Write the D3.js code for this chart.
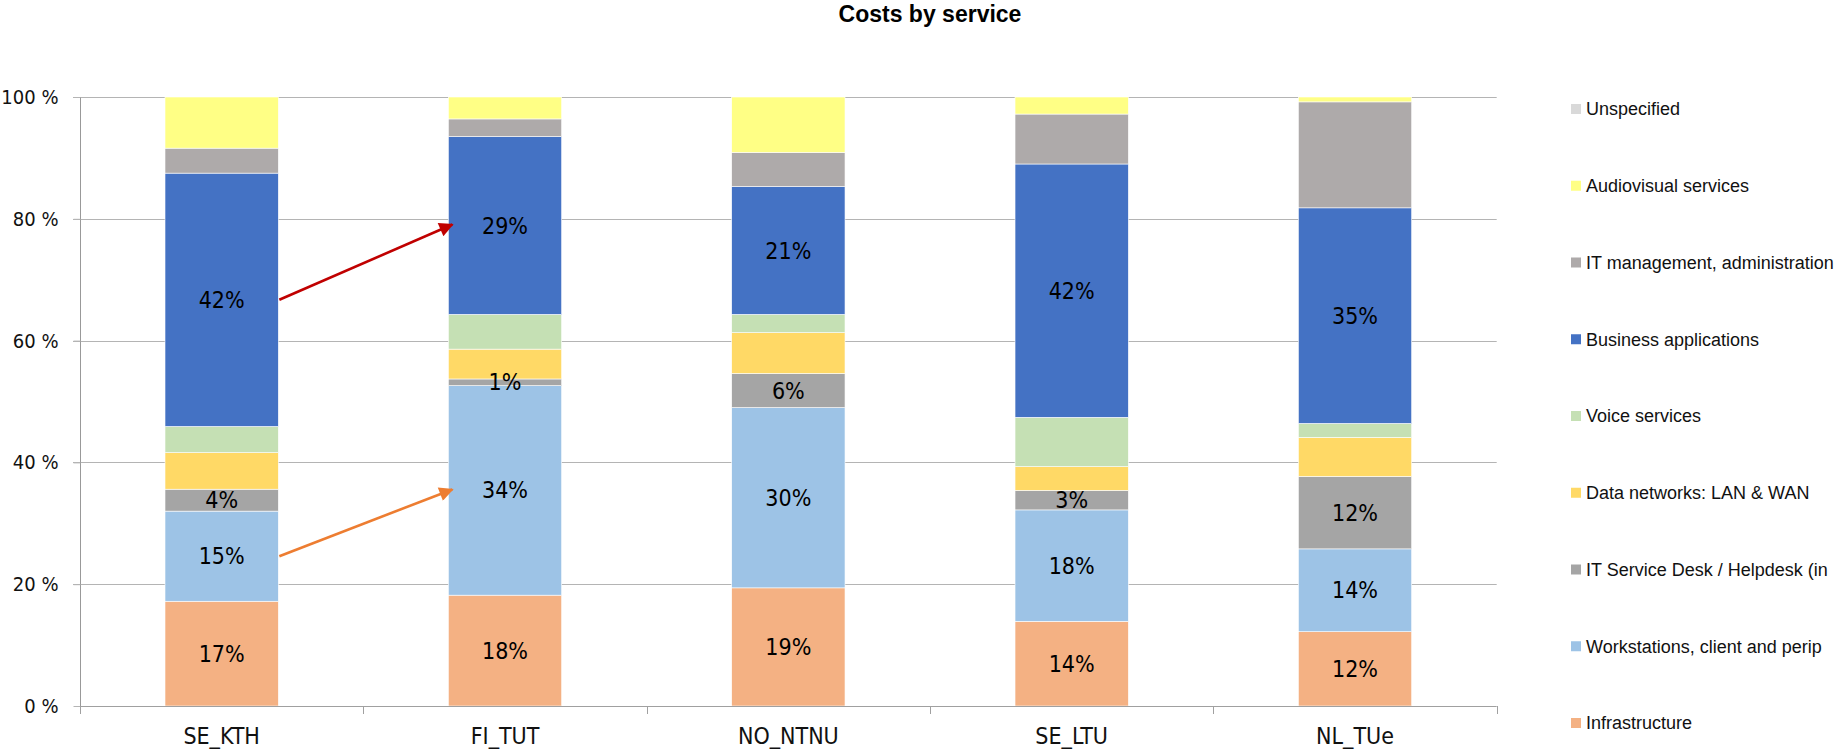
<!DOCTYPE html>
<html>
<head>
<meta charset="utf-8">
<script src="https://cdn.jsdelivr.net/npm/d3@7"></script>
<style>
  body { margin: 0; background: #fff; }
  svg { display: block; }
</style>
</head>
<body>
<svg id="chart" width="1837" height="753"></svg>
<script>
// categories (bars)
var categories = ["SE_KTH", "FI_TUT", "NO_NTNU", "SE_LTU", "NL_TUe"];

// series values in % (bottom to top)
var infrastructure = [17.2, 18.2, 19.4, 13.9, 12.2];
var workstations   = [14.8, 34.4, 29.6, 18.3, 13.6];
var serviceDesk    = [3.6, 1.1, 5.6, 3.2, 11.9];
var dataNetworks   = [6.0, 4.9, 6.7, 3.9, 6.4];
var voice          = [4.3, 5.7, 3.0, 8.1, 2.3];
var business       = [41.6, 29.2, 21.0, 41.6, 35.4];
var itManagement   = [4.1, 2.9, 5.6, 8.2, 17.4];
var audiovisual    = [8.4, 3.6, 9.1, 2.8, 0.8];
var unspecified    = [0, 0, 0, 0, 0];

var seriesNames = ["Infrastructure", "Workstations, client and perip", "IT Service Desk / Helpdesk (in",
  "Data networks: LAN & WAN", "Voice services", "Business applications",
  "IT management, administration", "Audiovisual services", "Unspecified"];
var seriesValues = [infrastructure, workstations, serviceDesk, dataNetworks, voice, business, itManagement, audiovisual, unspecified];
var colors = ["#f4b183", "#9dc3e6", "#a5a5a5", "#ffd966", "#c5e0b4", "#4472c4", "#aeaaaa", "#ffff85", "#d9d9d9"];
var labelled = [0, 1, 2, 5]; // series that carry data labels

var yTicks = [0, 20, 40, 60, 80, 100];

var narrow = "'Liberation Sans Narrow', 'Arial Narrow', 'DejaVu Sans Condensed', sans-serif";

// build table for d3.stack
var table = categories.map(function(c, i) {
  var row = {cat: c};
  seriesNames.forEach(function(s, j) { row[s] = seriesValues[j][i]; });
  return row;
});
var stacked = d3.stack().keys(seriesNames)(table);

var svg = d3.select("#chart");

var plotL = 80, plotR = 1496.7, plotT = 97, plotB = 706;

var x = d3.scaleBand().domain(categories).range([plotL, plotR]).paddingInner(0.6).paddingOuter(0.3);
var y = d3.scaleLinear().domain([0, 100]).range([plotB, plotT]);

// title
svg.append("text")
  .attr("x", 930).attr("y", 22)
  .attr("text-anchor", "middle")
  .style("font-family", "'Liberation Sans', Arial, sans-serif")
  .style("font-weight", "bold")
  .style("font-size", "23px")
  .text("Costs by service");

// gridlines
svg.append("g").selectAll("line")
  .data(yTicks.filter(function(d) { return d > 0; })).enter()
  .append("line")
  .attr("x1", plotL - 7).attr("x2", plotR)
  .attr("y1", function(d) { return Math.round(y(d)) + 0.5; })
  .attr("y2", function(d) { return Math.round(y(d)) + 0.5; })
  .attr("stroke", "#b4b4b4").attr("stroke-width", 1);

// y axis
var yAxis = svg.append("g")
  .attr("transform", "translate(" + (plotL + 0.5) + ",0)")
  .call(d3.axisLeft(y).tickValues(yTicks).tickSize(7).tickPadding(15)
    .tickFormat(function(d) { return d + " %"; }));
yAxis.select(".domain").attr("stroke", "#999").attr("d", "M0," + plotT + "V" + plotB);
yAxis.selectAll(".tick line").attr("stroke", "#b4b4b4");
yAxis.selectAll(".tick text")
  .style("font-family", narrow).style("font-size", "20px").attr("fill", "#111");

// bars
var layers = svg.append("g").selectAll("g")
  .data(stacked).enter()
  .append("g")
  .attr("fill", function(d, i) { return colors[i]; });

layers.selectAll("rect")
  .data(function(d) { return d; }).enter()
  .append("rect")
  .attr("x", function(d) { return x(d.data.cat); })
  .attr("width", x.bandwidth())
  .attr("y", function(d) { return y(d[1]); })
  .attr("height", function(d) { return y(d[0]) - y(d[1]); })
  .attr("stroke", "#fff").attr("stroke-width", 0.6);

// x axis
var xAxisLine = svg.append("g");
xAxisLine.append("line")
  .attr("x1", plotL).attr("x2", plotR)
  .attr("y1", plotB + 0.5).attr("y2", plotB + 0.5)
  .attr("stroke", "#a0a0a0");
xAxisLine.selectAll(".bt")
  .data(d3.range(categories.length + 1)).enter()
  .append("line")
  .attr("x1", function(i) { return Math.round(plotL + i * x.step()) + 0.5; })
  .attr("x2", function(i) { return Math.round(plotL + i * x.step()) + 0.5; })
  .attr("y1", plotB).attr("y2", plotB + 8)
  .attr("stroke", "#a0a0a0");
xAxisLine.selectAll("text")
  .data(categories).enter()
  .append("text")
  .attr("x", function(d) { return x(d) + x.bandwidth() / 2; })
  .attr("y", 744)
  .attr("text-anchor", "middle")
  .style("font-family", narrow).style("font-size", "23px").attr("fill", "#111")
  .text(function(d) { return d; });

// data labels
labelled.forEach(function(si) {
  svg.append("g").selectAll("text")
    .data(stacked[si]).enter()
    .append("text")
    .attr("x", function(d) { return x(d.data.cat) + x.bandwidth() / 2; })
    .attr("y", function(d) { return y((d[0] + d[1]) / 2); })
    .attr("dy", "0.35em")
    .attr("text-anchor", "middle")
    .style("font-family", narrow).style("font-size", "23px").attr("fill", "#000")
    .text(function(d) { return Math.round(d[1] - d[0]) + "%"; });
});

// arrows between SE_KTH and FI_TUT
var defs = svg.append("defs");
function marker(id, col) {
  defs.append("marker")
    .attr("id", id).attr("viewBox", "0 0 10 10")
    .attr("refX", 9).attr("refY", 5)
    .attr("markerWidth", 6.5).attr("markerHeight", 5.5)
    .attr("markerUnits", "strokeWidth")
    .attr("orient", "auto")
    .append("path").attr("d", "M0,0L10,5L0,10Z").attr("fill", col);
}
marker("redHead", "#c00000");
marker("orangeHead", "#ed7d31");

var arrows = [{series: 5, col: "#c00000", head: "redHead"}, {series: 1, col: "#ed7d31", head: "orangeHead"}];
arrows.forEach(function(a) {
  var s = stacked[a.series];
  svg.append("line")
    .attr("x1", x(categories[0]) + x.bandwidth() + 1)
    .attr("y1", y((s[0][0] + s[0][1]) / 2))
    .attr("x2", x(categories[1]) + 4)
    .attr("y2", y((s[1][0] + s[1][1]) / 2) - 1)
    .attr("stroke", a.col).attr("stroke-width", 2.6)
    .attr("marker-end", "url(#" + a.head + ")");
});

// legend (top entry = last series)
var legend = svg.append("g").selectAll("g")
  .data(seriesNames.slice().reverse()).enter()
  .append("g")
  .attr("transform", function(d, i) { return "translate(1571," + (109 + i * 76.75) + ")"; });
legend.append("rect")
  .attr("x", 0).attr("y", -5).attr("width", 10).attr("height", 10)
  .attr("fill", function(d) { return colors[seriesNames.indexOf(d)]; });
legend.append("text")
  .attr("x", 15).attr("y", 0).attr("dy", "0.36em")
  .style("font-family", "'Liberation Sans', Arial, sans-serif")
  .style("font-size", "18px").attr("fill", "#111")
  .text(function(d) { return d; });
</script>
</body>
</html>
